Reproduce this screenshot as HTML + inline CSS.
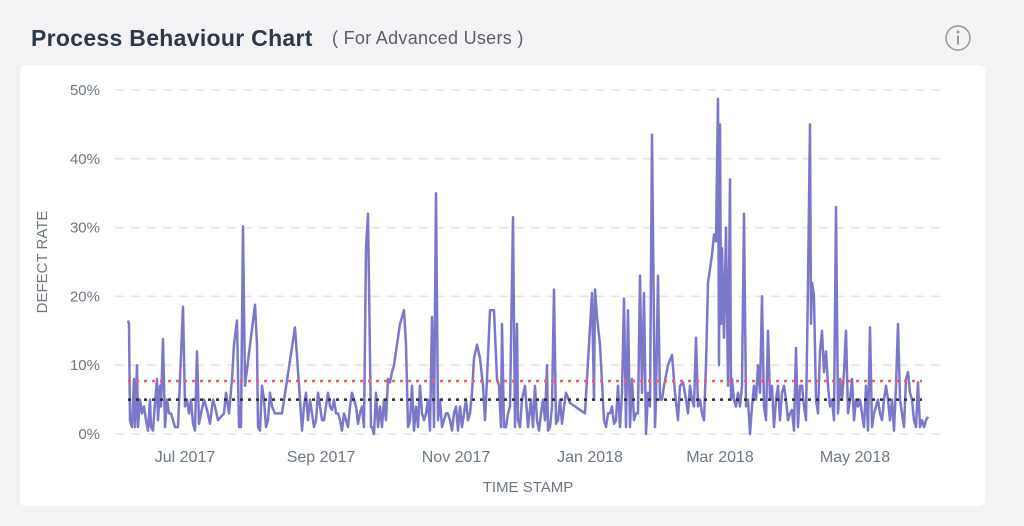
<!DOCTYPE html>
<html><head><meta charset="utf-8">
<style>
body{margin:0;width:1024px;height:526px;background:#f3f3f5;font-family:"Liberation Sans",sans-serif;overflow:hidden;position:relative}
#title{position:absolute;left:31px;top:25px;font-size:23px;font-weight:bold;color:#2e3847;letter-spacing:0.3px}
#sub{position:absolute;left:332px;top:28px;font-size:18px;color:#5a5f66;letter-spacing:0.3px}
#card{position:absolute;left:20px;top:65px;width:965px;height:441px;background:#fff;border-radius:6px}
svg{position:absolute;left:0;top:0}
</style></head><body>
<div id="title">Process Behaviour Chart</div>
<div id="sub">( For Advanced Users )</div>
<div id="card"></div>
<svg width="1024" height="526" id="chart">
<g><circle cx="958" cy="38" r="12" fill="none" stroke="#999" stroke-width="1.5"/><circle cx="958" cy="32" r="1.5" fill="#999"/><rect x="957" y="35.5" width="2" height="9" fill="#999"/></g>
</svg>
<script>
// time index (x units along one year, 0..802) and defect rate %
const t=[0,1,2,4,6,7,9,10,12,14,16,18,20,22,23,25,27,29,30,32,33,35,37,39,41,43,45,47,50,55,57,59,61,63,65,67,69,71,73,76,79,82,85,87,90,96,98,101,104,106,109,111,113,115,117,127,129,130,132,134,136,138,140,142,144,147,150,154,167,172,174,176,178,180,182,184,186,188,190,192,194,196,198,200,202,204,206,208,210,212,214,216,218,220,222,224,226,228,230,232,234,236,238,240,243,244,246,248,250,252,254,256,258,260,262,264,266,268,272,276,278,280,282,284,286,288,290,292,294,296,298,300,302,304,306,308,310,312,314,316,318,320,322,324,326,328,330,332,334,336,338,340,342,344,346,349,352,355,357,359,362,366,369,371,373,374,376,378,380,382,385,387,389,390,392,394,397,400,403,405,407,409,411,413,415,417,419,420,422,424,426,428,430,432,434,436,438,442,457,464,466,467,469,472,476,478,480,482,484,486,488,490,492,494,496,498,500,502,504,506,508,510,512,514,516,518,520,522,524,527,528,530,532,534,536,540,544,547,550,552,555,558,560,562,564,566,568,570,572,574,576,578,580,584,586,588,590,591,592,593,594,596,598,600,602,603,604,606,608,610,612,614,616,618,620,622,624,626,628,630,632,634,636,638,640,642,644,646,648,650,652,654,656,658,660,662,664,666,668,670,672,674,676,678,680,682,683,684,686,688,690,692,694,696,698,700,702,704,706,708,710,712,714,716,718,720,722,724,726,728,730,732,734,736,738,740,742,744,746,748,750,752,754,756,758,760,762,764,766,768,770,772,774,776,778,780,782,784,786,788,790,792,794,796,798,800,802];
const rate=[16.5,16,2,1,8,1,10,1,5,3,4,2,0.5,5,1,0.5,4.5,8,2,7,4,13.8,1,5,3,3,2,1,1,18.5,4,5,3,5,1.5,0.5,12,1.5,3,5,3.5,1.5,5,4,2,3,6,3,8,13,16.5,1,1,30.2,7,18.8,13,1,0.5,7,5,1,2,6,4,3,3,3,15.5,5,0.5,4,6,2,5,3,1,2,6,4,2,2,4,6,4,3.5,5,3,3,2,0.5,3,2,1,4,6,5,4,1.5,3,4,1,27,32,1,1,0,6,1,4,1,5,2,8,7.5,9,10,12,16,18,13,1,2,7,0.5,4,1,7,3,2,3,5,0.5,17,1,35,2,5,1,2,3,3,2,0.5,3,4,0.5,4,1,3,5,2,3,6,11,13,11,7,2,8,18,18,8,7,1,16,1,1,3,4,31.5,1,16,2,1,5,7,1,5,1,7,2,0.5,3,5,2,10,0.5,1,4,21,1.5,2,5,1.5,4,6,4.5,3,20.5,5,21,17,13,2,1,3,3,4,1.5,2,7,1,6,19.7,1,18,1,8,2,3,3,23,6,20.5,0,6,4,43.5,1,5,23,5,5,7,10,11.5,6,2,7,7.5,5,3,7,5,4,14,4,5,3,2,10,22,26,29,28,48.7,10,45,16,27,14,30,7,37,5,8,5,4,6,4,7,32,4,5,0,4,7,5,10,6,20,4,2,15,5,7,1,5,7,2,6,7,5,2,3,3.5,0.5,12.5,1,7,7,4,2,22,45,16,22,20,5,3,12,15,9,12,7,4,5,2,33,3,8,5,9,15,3,5,8,2,5,4,5,3,1,7,0.5,15.5,1,3,4,5,3,2,5,7,5,2,5,0.5,7,16,5,3,1,8,9,6,5,2,1,7.5,1,2,1,2,2.5];
const yTicks=[0,10,20,30,40,50];
const xTickLabels=["Jul 2017","Sep 2017","Nov 2017","Jan 2018","Mar 2018","May 2018"];
const xTickPos=[57,193,328,462,592,727];
const meanRate=5;
const uclRate=7.7;

const svg=document.getElementById('chart');const NS='http://www.w3.org/2000/svg';
const X=v=>128+v*(930-128)/802;
const Y=v=>434-v*6.88;
function mk(tag,at){const e=document.createElementNS(NS,tag);for(const k in at)e.setAttribute(k,at[k]);svg.appendChild(e);return e;}
yTicks.forEach(v=>{
 const g=mk('line',{x1:115,x2:940,y1:Y(v),y2:Y(v),stroke:'#e4e4e4','stroke-width':1.5,'stroke-dasharray':'9,7'});
 
 
 const l=mk('text',{x:100,y:Y(v)+5,'text-anchor':'end','font-size':15,fill:'#6f7782','font-family':'Liberation Sans'});
 l.textContent=v+'%';
 
 
});
xTickLabels.forEach((s,i)=>{
 const l=mk('text',{x:X(xTickPos[i]),y:462,'text-anchor':'middle','font-size':16,fill:'#6f7782','font-family':'Liberation Sans'});
 l.textContent=s;
 
 
});
let yt=mk('text',{x:0,y:0,transform:'translate(47,262) rotate(-90)','text-anchor':'middle','font-size':15,fill:'#6f7782','font-family':'Liberation Sans'});
yt.textContent='DEFECT RATE';


let xt=mk('text',{x:528,y:492,'text-anchor':'middle','font-size':15,fill:'#6f7782','font-family':'Liberation Sans'});
xt.textContent='TIME STAMP';


let d=t.map((v,i)=>(i?'L':'M')+X(v).toFixed(1)+','+Y(rate[i]).toFixed(1)).join('');
const p=mk('path',{d:d,fill:'none',stroke:'#7c78c9','stroke-width':2.5,'stroke-linejoin':'round'});


const u=mk('line',{x1:X(0),x2:X(794),y1:Y(uclRate),y2:Y(uclRate),stroke:'#f5605a','stroke-width':2.5,'stroke-dasharray':'3,5'});


const m=mk('line',{x1:X(0),x2:X(794),y1:Y(meanRate),y2:Y(meanRate),stroke:'#2b2f38','stroke-width':2.5,'stroke-dasharray':'3,5'});


</script>
</body></html>
